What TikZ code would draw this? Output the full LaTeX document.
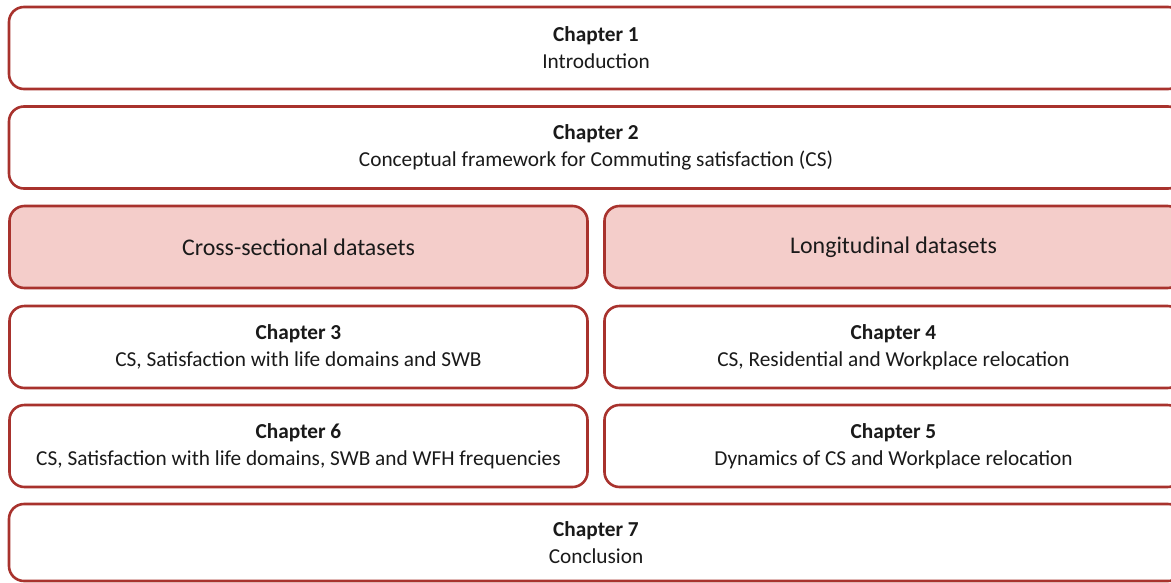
\documentclass[tikz,border=0pt]{standalone}
\usepackage{fontspec}
\setmainfont{Carlito}
\definecolor{edge}{HTML}{A8322D}
\definecolor{blush}{HTML}{F4CDCA}
\definecolor{ink}{HTML}{1A1A1A}
\begin{document}
\begin{tikzpicture}[x=1pt,y=-1pt,
  chapbox/.style={draw=edge, line width=2.6pt, rounded corners=15pt, fill=white,
    align=center, text=ink, inner sep=0pt, font=\fontsize{21.3}{27}\selectfont},
  wide/.style={chapbox, minimum width=1174pt, minimum height=82pt},
  half/.style={chapbox, minimum width=578pt, minimum height=82pt},
  dataset/.style={half, fill=blush, font=\fontsize{23.9}{29}\selectfont}]
\useasboundingbox (0,0) rectangle (1171,582);
\clip (0,0) rectangle (1171,582);
% full-width chapters
\node[wide] (c1) at (596,48) {\textbf{Chapter 1}\\Introduction};
\node[wide] (c2) at (596,147.5) {\textbf{Chapter 2}\\Conceptual framework for Commuting satisfaction (CS)};
% dataset headers
\node[dataset] (cross) at (298.5,247) {Cross-sectional datasets};
\node[dataset] (longi) at (893.5,247) {Longitudinal datasets};
% two-column chapters
\node[half] (c3) at (298.5,347) {\textbf{Chapter 3}\\CS, Satisfaction with life domains and SWB};
\node[half] (c4) at (893.5,347) {\textbf{Chapter 4}\\CS, Residential and Workplace relocation};
\node[half] (c6) at (298.5,446) {\textbf{Chapter 6}\\CS, Satisfaction with life domains, SWB and WFH frequencies};
\node[half] (c5) at (893.5,446) {\textbf{Chapter 5}\\Dynamics of CS and Workplace relocation};
% closing chapter
\node[wide, minimum height=77pt] (c7) at (596,542.5) {\textbf{Chapter 7}\\Conclusion};
\end{tikzpicture}
\end{document}
